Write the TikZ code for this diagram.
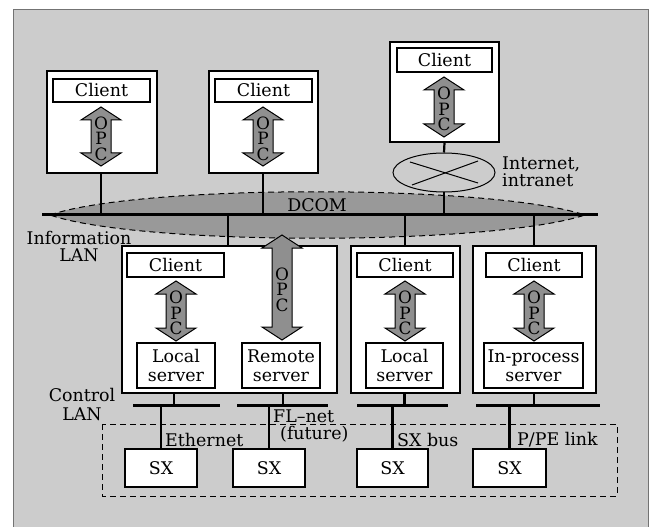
\documentclass[tikz,border=0pt]{standalone}
\usepackage{fontspec}
\setmainfont{DejaVu Serif}
\usetikzlibrary{shapes.geometric}
\definecolor{bggray}{gray}{0.80}
\definecolor{lensgray}{gray}{0.60}
\definecolor{arrgray}{gray}{0.56}
\definecolor{framegray}{gray}{0.45}
\newcommand\opcarr[4]{%
  \draw[arrowshape] (#2-10,#3+13) -- (#2-20,#3+13) -- (#2,#3) -- (#2+20,#3+13) -- (#2+10,#3+13)
    -- (#2+10,#4-13) -- (#2+20,#4-13) -- (#2,#4) -- (#2-20,#4-13) -- (#2-10,#4-13) -- cycle;
  \node[opctext] (#1) at (#2,{(#3+#4)/2+2}) {O\\P\\C};}
\begin{document}
\begin{tikzpicture}[x=1bp,y=-1bp,
  box/.style={draw,fill=white,line width=1.2bp,inner sep=0pt},
  txt/.style={font=\fontsize{17.5}{19}\selectfont},
  lbl/.style={font=\fontsize{17.5}{17}\selectfont,inner sep=0pt},
  opctext/.style={font=\fontsize{17}{15.5}\selectfont,align=center,inner sep=0pt},
  arrowshape/.style={draw=black,fill=arrgray,line width=1bp,line join=miter},
  conn/.style={line width=2.2bp},
  bar/.style={line width=3bp},
  busline/.style={line width=3bp}]
\useasboundingbox (0,0) rectangle (655,527);
\fill[white] (0,0) rectangle (655,527);
\draw[fill=bggray,draw=framegray,line width=0.8bp] (13,9) rectangle (648,530);

% DCOM lens and bus
\draw[dash pattern=on 6bp off 4bp,fill=lensgray,line width=1bp]
  (50,215) .. controls (140,184) and (490,184) .. (585,215)
  .. controls (490,246) and (140,246) .. (50,215) -- cycle;
\node[txt,inner sep=0pt] (dcom) at (317,205) {DCOM};
\coordinate (busL) at (42,215);
\coordinate (busR) at (598,215);
\draw[busline] (busL) -- (busR);

% top clients
\node[box,minimum width=110bp,minimum height=102bp] (top1) at (102,122) {};
\node[box,txt,minimum width=97bp,minimum height=23bp] (cl1) at (101.5,90.5) {Client};
\opcarr{opc1}{101}{107}{166}
\node[box,minimum width=109bp,minimum height=102bp] (top2) at (263.5,122) {};
\node[box,txt,minimum width=97bp,minimum height=23bp] (cl2) at (263.5,90.5) {Client};
\opcarr{opc2}{263}{107}{166}
\node[box,minimum width=109bp,minimum height=100bp] (top3) at (444.5,92) {};
\node[box,txt,minimum width=95bp,minimum height=24bp] (cl3) at (444.5,60) {Client};
\opcarr{opc3}{444}{77}{137}

\draw[conn] (top1.south -| opc1) -- (opc1 |- busL);
\draw[conn] (top2.south -| opc2) -- (opc2 |- busL);

% internet
\node[draw,ellipse,line width=1bp,minimum width=102bp,minimum height=39bp,inner sep=0pt] (inet) at (444,172.5) {};
\draw[line width=1bp] ([shift={(-34,-10.5)}]inet.center) -- ([shift={(34,10.5)}]inet.center);
\draw[line width=1bp] ([shift={(-32,12.5)}]inet.center) -- ([shift={(34,-11.5)}]inet.center);
\draw[conn] (top3.south) -- (inet.north);
\draw[conn] (inet.south) -- (inet.south |- busL);
\node[lbl,align=left,anchor=west] (inetlbl) at (502,171.5) {Internet,\\intranet};

\node[lbl,align=center] (infolan) at (79,246.5) {Information\\LAN};

% middle boxes
\node[box,minimum width=215bp,minimum height=147bp] (boxA) at (229.5,319.5) {};
\node[box,txt,minimum width=97bp,minimum height=24bp] (clA) at (175.5,265) {Client};
\opcarr{opcA}{176}{281}{341}
\node[box,txt,align=center,minimum width=78bp,minimum height=45bp] (localA) at (176,365.5) {Local\\server};
\node[box,txt,align=center,minimum width=78bp,minimum height=45bp] (remoteA) at (281,365.5) {Remote\\server};
\opcarr{opcR}{282}{235}{340}

\node[box,minimum width=109bp,minimum height=147bp] (boxB) at (405.5,319.5) {};
\node[box,txt,minimum width=96bp,minimum height=24bp] (clB) at (405,265) {Client};
\opcarr{opcB}{405}{281}{341}
\node[box,txt,align=center,minimum width=77bp,minimum height=45bp] (localB) at (404.5,365.5) {Local\\server};

\node[box,minimum width=123bp,minimum height=147bp] (boxC) at (534.5,319.5) {};
\node[box,txt,minimum width=96bp,minimum height=24bp] (clC) at (534,265) {Client};
\opcarr{opcC}{534}{281}{341}
\node[box,txt,align=center,minimum width=99bp,minimum height=45bp] (inproc) at (533.5,365.5) {In-process\\server};

\coordinate (dA) at (228,215);
\draw[conn] (dA) -- (dA |- boxA.north);
\draw[conn] (opcB |- busL) -- (opcB |- boxB.north);
\draw[conn] (opcC |- busL) -- (opcC |- boxC.north);

% control LAN
\node[lbl,font=\fontsize{17.5}{19}\selectfont,align=center] (ctrllan) at (82,404.5) {Control\\LAN};
\coordinate (b1L) at (133,405); \coordinate (b1R) at (220,405);
\coordinate (b2L) at (237,405); \coordinate (b2R) at (328,405);
\coordinate (b3L) at (357,405); \coordinate (b3R) at (448,405);
\coordinate (b4L) at (476,405); \coordinate (b4R) at (600,405);
\draw[bar] (b1L) -- (b1R);
\draw[bar] (b2L) -- (b2R);
\draw[bar] (b3L) -- (b3R);
\draw[bar] (b4L) -- (b4R);
\coordinate (sA1) at (174,393); \coordinate (sA2) at (283,393);
\draw[conn] (sA1) -- (sA1 |- b1L);
\draw[conn] (sA2) -- (sA2 |- b2L);
\draw[conn] (localB |- boxB.south) -- (localB |- b3L);
\draw[conn] (opcC |- boxC.south) -- (opcC |- b4L);

% dashed area
\draw[dash pattern=on 6bp off 4bp,line width=1bp] (102,424) rectangle (617,496);

% SX boxes
\node[box,txt,minimum width=72bp,minimum height=38bp] (sx1) at (161,468) {SX};
\node[box,txt,minimum width=72bp,minimum height=38bp] (sx2) at (269,468) {SX};
\node[box,txt,minimum width=71bp,minimum height=38bp] (sx3) at (392.5,468) {SX};
\node[box,txt,minimum width=73bp,minimum height=38bp] (sx4) at (509.5,468) {SX};
\draw[conn] (sx1.north |- b1L) -- (sx1.north);
\draw[conn] (sx2.north |- b2L) -- (sx2.north);
\draw[conn] (sx3.north |- b3L) -- (sx3.north);
\draw[conn] (sx4.north |- b4L) -- (sx4.north);

\node[lbl,anchor=west] (eth) at (165,440) {Ethernet};
\node[lbl,anchor=west,align=left] (flnet) at (273,426) {FL–net\\\hspace*{7bp}(future)};
\node[lbl,anchor=west] (sxbus) at (397,440) {SX bus};
\node[lbl,anchor=west] (ppe) at (517,440) {P/PE link};
\end{tikzpicture}
\end{document}
